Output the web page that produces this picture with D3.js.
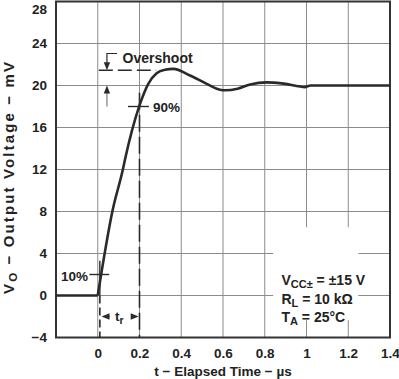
<!DOCTYPE html>
<html><head><meta charset="utf-8">
<script src="https://cdn.jsdelivr.net/npm/d3@7"></script>
<style>
body{margin:0;background:#fff;}
text{font-family:"Liberation Sans",Arial,Helvetica,sans-serif;font-weight:bold;fill:#222;}
</style></head>
<body><svg id="c" width="399" height="379"></svg>
<script>
// ---- data ----
const timeUs = [-0.2, 0.0, 0.072, 0.12, 0.13, 0.2, 0.242, 0.282, 0.322, 0.362, 0.442, 0.522, 0.586, 0.61, 0.67, 0.73, 0.81, 0.88, 0.97, 0.99, 1.02, 1.4];
const voltMv = [0, 0, 8.19, 11.97, 12.9, 18.1, 20.16, 21.16, 21.5, 21.58, 20.95, 20.16, 19.6, 19.55, 19.7, 20.1, 20.3, 20.2, 19.9, 19.85, 20.0, 20.0];
const xTicks = [0, 0.2, 0.4, 0.6, 0.8, 1.0, 1.2, 1.4];
const xTickLabels = ["0", "0.2", "0.4", "0.6", "0.8", "1", "1.2", "1.4"];
const xGrid = [0, 0.2, 0.4, 0.6, 0.8, 1.0, 1.2];
const yTicks = [-4, 0, 4, 8, 12, 16, 20, 24, 28];
const yTickLabels = ["\u22124", "0", "4", "8", "12", "16", "20", "24", "28"];
const yGrid = [0, 4, 8, 12, 16, 20, 24];
// annotation anchors (data units)
const overshootLevel = 21.45, finalLevel = 20, level90 = 18, level10 = 2;
const t10 = 0.01, t90 = 0.2;
const conditions = [
  ["V", "CC\u00B1", " = \u00B115 V"],
  ["R", "L", " = 10 k\u03A9"],
  ["T", "A", " = 25\u00B0C"]
];

const svg = d3.select("#c");
const x = d3.scaleLinear().domain([-0.2, 1.4]).range([56, 390]);
const y = d3.scaleLinear().domain([-4, 28]).range([337.5, 1.5]);
const gridColor = "#8c8c8c";

// grid
svg.append("g").selectAll("line").data(xGrid).join("line")
  .attr("x1", d => x(d)).attr("x2", d => x(d)).attr("y1", y(28)).attr("y2", y(-4))
  .attr("stroke", gridColor).attr("stroke-width", 1);
svg.append("g").selectAll("line").data(yGrid).join("line")
  .attr("x1", x(-0.2)).attr("x2", x(1.4)).attr("y1", d => y(d)).attr("y2", d => y(d))
  .attr("stroke", gridColor).attr("stroke-width", 1);

// legend white box
svg.append("rect").attr("x", x(0.84)).attr("y", y(6.5)).attr("width", x(1.248) - x(0.84)).attr("height", y(-2.35) - y(6.5)).attr("fill", "#fff");

// axes labels
const xAxis = d3.axisBottom(x).tickValues(xTicks).tickFormat((d, i) => xTickLabels[i]).tickSize(0).tickPadding(11);
const gx = svg.append("g").attr("transform", `translate(0,${y(-4)})`).call(xAxis);
gx.select(".domain").remove();
gx.selectAll("text").attr("font-size", 13.5).style("font-family", "'Liberation Sans',Arial,sans-serif").style("font-weight", "bold").attr("fill", "#222");

const yAxis = d3.axisLeft(y).tickValues(yTicks).tickFormat((d, i) => yTickLabels[i]).tickSize(0).tickPadding(9);
const gy = svg.append("g").attr("transform", `translate(${x(-0.2)},0)`).call(yAxis);
gy.select(".domain").remove();
gy.selectAll("text").attr("font-size", 13.5).style("font-family", "'Liberation Sans',Arial,sans-serif").style("font-weight", "bold").attr("fill", "#222");
gy.selectAll(".tick").filter(d => d === 28).select("text").attr("dy", "0.9em");

// axis titles
svg.append("text").attr("x", (x(-0.2) + x(1.4)) / 2).attr("y", 376).attr("text-anchor", "middle")
  .attr("font-size", 13.5).text("t \u2212 Elapsed Time \u2212 \u00B5s");
const yt = svg.append("text").attr("transform", `translate(13.5,178) rotate(-90)`)
  .attr("text-anchor", "middle").attr("font-size", 15)
  .attr("textLength", 232).attr("lengthAdjust", "spacing");
yt.append("tspan").text("V");
yt.append("tspan").attr("font-size", 11.5).attr("dy", 3).text("O");
yt.append("tspan").attr("dy", -3).text(" \u2212 Output Voltage \u2212 mV");

// plot frame
svg.append("rect").attr("x", x(-0.2)).attr("y", y(28)).attr("width", x(1.4) - x(-0.2)).attr("height", y(-4) - y(28))
  .attr("fill", "none").attr("stroke", "#333").attr("stroke-width", 2);

// curve
const pts = timeUs.map((t, i) => [t, voltMv[i]]);
const base = pts.filter(p => p[0] <= 0);
const rise = pts.filter(p => p[0] >= 0);
svg.append("path").attr("d", d3.line().x(d => x(d[0])).y(d => y(d[1]))(base))
  .attr("fill", "none").attr("stroke", "#2a2a2a").attr("stroke-width", 2.6);
svg.append("path").attr("d", d3.line().x(d => x(d[0])).y(d => y(d[1])).curve(d3.curveMonotoneX)(rise))
  .attr("fill", "none").attr("stroke", "#2a2a2a").attr("stroke-width", 2.6).attr("stroke-linejoin", "round");

const ink = "#2a2a2a";
// dashed verticals (10% and 90%)
svg.append("line").attr("x1", x(t90)).attr("x2", x(t90)).attr("y1", y(19.3)).attr("y2", y(-4))
  .attr("stroke", ink).attr("stroke-width", 1.6).attr("stroke-dasharray", "17,5");
svg.append("line").attr("x1", x(t10)).attr("x2", x(t10)).attr("y1", y(0)).attr("y2", y(-4))
  .attr("stroke", ink).attr("stroke-width", 1.6).attr("stroke-dasharray", "8,4");
svg.append("line").attr("x1", x(t10)).attr("x2", x(t10)).attr("y1", y(3.3)).attr("y2", y(0))
  .attr("stroke", ink).attr("stroke-width", 1.4);

// 10% and 90% crosshair ticks
svg.append("line").attr("x1", x(-0.04)).attr("x2", x(0.055)).attr("y1", y(level10)).attr("y2", y(level10))
  .attr("stroke", ink).attr("stroke-width", 1.4);
svg.append("line").attr("x1", x(0.145)).attr("x2", x(0.245)).attr("y1", y(level90)).attr("y2", y(level90))
  .attr("stroke", ink).attr("stroke-width", 1.4);
svg.append("text").attr("x", x(-0.047)).attr("y", y(1.4)).attr("text-anchor", "end").attr("font-size", 13.5).text("10%");
svg.append("text").attr("x", x(0.265)).attr("y", y(17.5)).attr("font-size", 13.5).text("90%");

// overshoot annotation
svg.append("line").attr("x1", x(0.005)).attr("x2", x(0.28)).attr("y1", y(overshootLevel)).attr("y2", y(overshootLevel))
  .attr("stroke", ink).attr("stroke-width", 1.5).attr("stroke-dasharray", "14,5");
const ax = 0.044;
svg.append("path").attr("d", `M${x(0.092)},${y(23.05)}H${x(ax)}V${y(overshootLevel) - 7}`)
  .attr("fill", "none").attr("stroke", ink).attr("stroke-width", 1.2);
function arrowHead(px, py, dir) { // (px,py) = tip
  const L = 8, W = 3.2;
  let d;
  if (dir === "down") d = `M${px},${py}L${px - W},${py - L}L${px + W},${py - L}Z`;
  if (dir === "up") d = `M${px},${py}L${px - W},${py + L}L${px + W},${py + L}Z`;
  if (dir === "left") d = `M${px},${py}L${px + L},${py - W}L${px + L},${py + W}Z`;
  if (dir === "right") d = `M${px},${py}L${px - L},${py - W}L${px - L},${py + W}Z`;
  svg.append("path").attr("d", d).attr("fill", ink);
}
arrowHead(x(ax), y(overshootLevel), "down");
svg.append("line").attr("x1", x(ax)).attr("x2", x(ax)).attr("y1", y(finalLevel) + 7).attr("y2", y(18.0))
  .attr("stroke", "#888").attr("stroke-width", 1.3);
arrowHead(x(ax), y(finalLevel), "up");
svg.append("text").attr("x", x(0.119)).attr("y", y(22.1)).attr("font-size", 14).text("Overshoot");

// rise time arrows
const trV = -2;
arrowHead(x(0.018), y(trV), "left");
svg.append("line").attr("x1", x(0.018) + 6).attr("x2", x(0.057)).attr("y1", y(trV)).attr("y2", y(trV)).attr("stroke", ink).attr("stroke-width", 1.2);
arrowHead(x(0.196), y(trV), "right");
svg.append("line").attr("x1", x(0.16)).attr("x2", x(0.196) - 6).attr("y1", y(trV)).attr("y2", y(trV)).attr("stroke", ink).attr("stroke-width", 1.2);
const trT = svg.append("text").attr("x", x(0.083)).attr("y", y(trV) + 4).attr("font-size", 13.5);
trT.append("tspan").text("t");
trT.append("tspan").attr("font-size", 10.5).attr("dy", 3).text("r");

// conditions
conditions.forEach((c, i) => {
  const t = svg.append("text").attr("x", x(0.88)).attr("y", y(1.0) + i * 18.5).attr("font-size", 14);
  t.append("tspan").text(c[0]);
  t.append("tspan").attr("font-size", 11).attr("dy", 3).text(c[1]);
  t.append("tspan").attr("dy", -3).text(c[2]);
});
</script></body></html>
